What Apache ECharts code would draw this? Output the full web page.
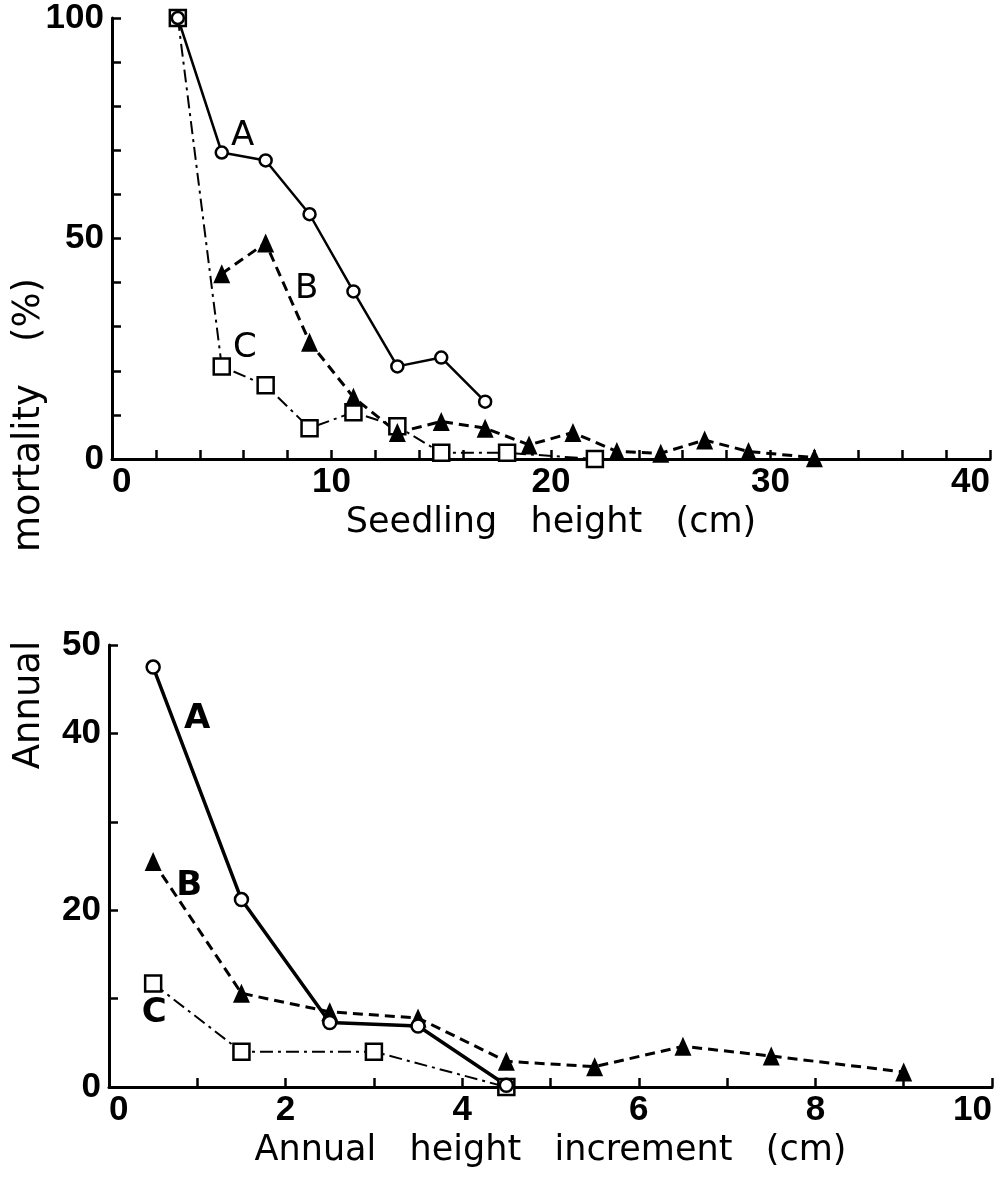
<!DOCTYPE html>
<html>
<head>
<meta charset="utf-8">
<script src="https://cdn.jsdelivr.net/npm/echarts@6/dist/echarts.min.js"></script>
<style>
  html, body { margin: 0; padding: 0; background: #fff; }
  #chart { width: 1006px; height: 1177px; }
</style>
</head>
<body>
<div id="chart"></div>
<script>
// Upper panel: mortality (%) against seedling height (cm)
const heightA = [3, 5, 7, 9, 11, 13, 15, 17];
const mortA   = [100, 69.5, 67.7, 55.5, 38, 21, 23, 13];
const heightB = [5, 7, 9, 11, 13, 15, 17, 19, 21, 23, 25, 27, 29, 32];
const mortB   = [42, 49, 26.5, 14, 6, 8.5, 7, 3.2, 6, 1.7, 1.3, 4.3, 1.7, 0.3];
const heightC = [3, 5, 7, 9, 11, 13, 15, 18, 22];
const mortC   = [100, 21, 16.7, 7, 10.6, 7.4, 1.4, 1.4, 0];

// Lower panel: mortality (%) against annual height increment (cm)
const incA = [0.5, 1.5, 2.5, 3.5, 4.5];
const incMortA = [47.5, 21.2, 7.3, 6.9, 0.2];
const incB = [0.5, 1.5, 2.5, 3.5, 4.5, 5.5, 6.5, 7.5, 9];
const incMortB = [25.5, 10.6, 8.5, 7.8, 2.9, 2.3, 4.6, 3.5, 1.7];
const incC = [0.5, 1.5, 3, 4.5];
const incMortC = [11.7, 4.0, 4.0, 0];

// Tick labels shown on each axis
const topXLabels = [0, 10, 20, 30, 40];
const topYLabels = [0, 50, 100];
const botXLabels = [0, 2, 4, 6, 8, 10];
const botYLabels = [0, 20, 40, 50];

// Words of the shared vertical title, bottom to top
const yTitleWords = ['Annual', 'mortality', '(%)'];

const FONT = "'Liberation Sans', Arial, sans-serif";
const TITLE_FONT = "'DejaVu Sans', sans-serif";

// Curve letters, anchored to one point of each curve
const curveTags = {
  topA: { index: 1, text: 'A', offset: [21, -16], bold: false },
  topB: { index: 2, text: 'B', offset: [-3, -53], bold: false },
  topC: { index: 1, text: 'C', offset: [23, -18], bold: false },
  botA: { index: 0, text: 'A', offset: [44, 52], bold: true },
  botB: { index: 0, text: 'B', offset: [36, 25], bold: true },
  botC: { index: 0, text: 'C', offset: [1, 30], bold: true }
};

function pairs(xs, ys, tagKey) {
  const tag = curveTags[tagKey];
  return xs.map((x, i) => {
    const item = { value: [x, ys[i]] };
    if (tag && tag.index === i) {
      item.label = {
        show: true, formatter: tag.text, position: 'inside',
        offset: tag.offset, color: '#000', fontSize: 34,
        fontWeight: tag.bold ? 'bold' : 'normal', fontFamily: TITLE_FONT
      };
    }
    return item;
  });
}

function onlyLabels(list) {
  return v => (list.indexOf(v) >= 0 ? String(v) : '');
}

const axisLine = { show: true, onZero: false, lineStyle: { color: '#000', width: 3 } };
const axisTick = { show: true, inside: true, length: 9, lineStyle: { color: '#000', width: 2.5 } };
const labelStyle = { color: '#000', fontSize: 35, fontWeight: 'bold', fontFamily: FONT };
const titleStyle = { color: '#000', fontSize: 35, fontFamily: TITLE_FONT };

const styleA = {
  type: 'line', symbol: 'circle', symbolSize: 12,
  itemStyle: { color: '#fff', borderColor: '#000', borderWidth: 2.5 },
  lineStyle: { color: '#000', width: 2.5, type: 'solid' }
};
const styleB = {
  type: 'line', symbol: 'triangle', symbolSize: [17, 19],
  itemStyle: { color: '#000', borderColor: '#000', borderWidth: 0 },
  lineStyle: { color: '#000', width: 3, type: [10, 6] }
};
const styleC = {
  type: 'line', symbol: 'rect', symbolSize: 16,
  itemStyle: { color: '#fff', borderColor: '#000', borderWidth: 2.5 },
  lineStyle: { color: '#000', width: 2, type: [13, 5, 3, 5] }
};

function mk(style, extra) {
  return Object.assign({ silent: true, emphasis: { disabled: true }, z: 2 }, style, extra);
}

// Vertical title placed word by word (centres along the left margin)
const yTitleCentres = [705, 468, 310];
const yTitleGraphics = yTitleWords.map((w, i) => ({
  type: 'text', x: 29, y: yTitleCentres[i], rotation: Math.PI / 2,
  style: {
    text: w, fill: '#000', font: "37px 'DejaVu Sans', sans-serif",
    align: 'center', verticalAlign: 'middle'
  }
}));

const chart = echarts.init(document.getElementById('chart'), null, { renderer: 'canvas' });
chart.setOption({
  animation: false,
  backgroundColor: '#fff',
  grid: [
    { left: 112, top: 18, width: 878, height: 441, containLabel: false, outerBoundsMode: 'none' },
    { left: 109, top: 645, width: 883, height: 442, containLabel: false, outerBoundsMode: 'none' }
  ],
  xAxis: [
    {
      gridIndex: 0, type: 'value', min: 0, max: 40, interval: 2,
      axisLine, axisTick, splitLine: { show: false },
      axisLabel: Object.assign({ margin: 6, formatter: onlyLabels(topXLabels),
        alignMinLabel: 'left', alignMaxLabel: 'right' }, labelStyle),
      name: 'Seedling   height   (cm)', nameLocation: 'middle', nameGap: 46,
      nameTextStyle: titleStyle
    },
    {
      gridIndex: 1, type: 'value', min: 0, max: 10, interval: 1,
      axisLine, axisTick, splitLine: { show: false },
      axisLabel: Object.assign({ margin: 6, formatter: onlyLabels(botXLabels),
        alignMinLabel: 'left', alignMaxLabel: 'right' }, labelStyle),
      name: 'Annual   height   increment   (cm)', nameLocation: 'middle', nameGap: 46,
      nameTextStyle: titleStyle
    }
  ],
  yAxis: [
    {
      gridIndex: 0, type: 'value', min: 0, max: 100, interval: 10,
      axisLine, axisTick, splitLine: { show: false },
      axisLabel: Object.assign({ margin: 8, formatter: onlyLabels(topYLabels) }, labelStyle)
    },
    {
      gridIndex: 1, type: 'value', min: 0, max: 50, interval: 10,
      axisLine, axisTick, splitLine: { show: false },
      axisLabel: Object.assign({ margin: 8, formatter: onlyLabels(botYLabels) }, labelStyle)
    }
  ],
  graphic: yTitleGraphics,
  series: [
    mk(styleC, { name: 'C', xAxisIndex: 0, yAxisIndex: 0, data: pairs(heightC, mortC, 'topC') }),
    mk(styleB, { name: 'B', xAxisIndex: 0, yAxisIndex: 0, data: pairs(heightB, mortB, 'topB') }),
    mk(styleA, { name: 'A', xAxisIndex: 0, yAxisIndex: 0, data: pairs(heightA, mortA, 'topA') }),
    mk(styleC, { name: 'C', xAxisIndex: 1, yAxisIndex: 1, data: pairs(incC, incMortC, 'botC') }),
    mk(styleB, { name: 'B', xAxisIndex: 1, yAxisIndex: 1, data: pairs(incB, incMortB, 'botB') }),
    mk(Object.assign({}, styleA, { lineStyle: { color: '#000', width: 3.5, type: 'solid' }, symbolSize: 13 }),
       { name: 'A', xAxisIndex: 1, yAxisIndex: 1, data: pairs(incA, incMortA, 'botA') })
  ]
});
</script>
</body>
</html>
